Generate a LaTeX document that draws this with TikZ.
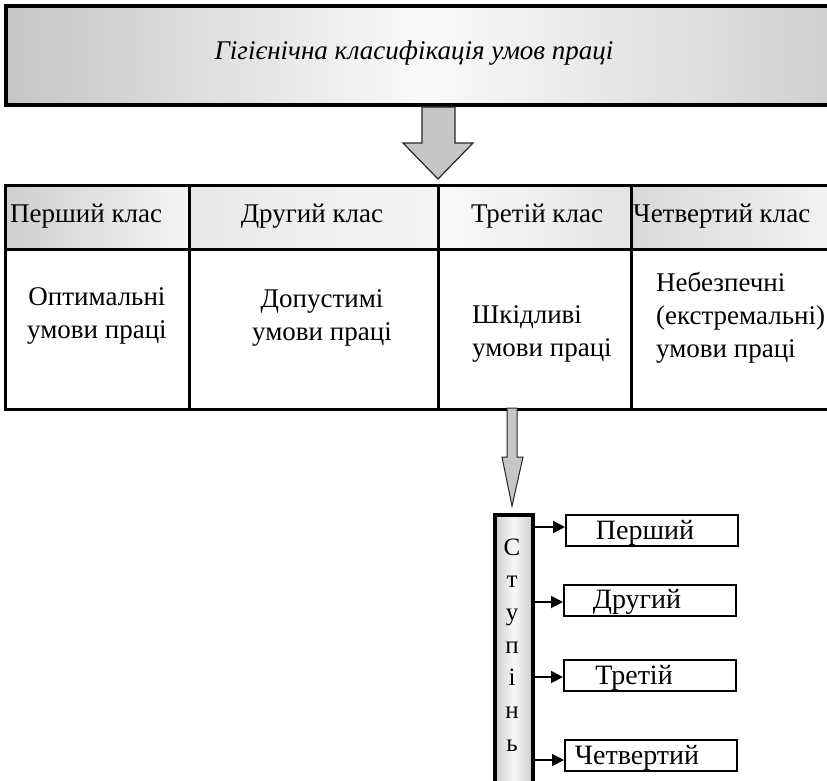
\documentclass[tikz,border=0pt]{standalone}
\usepackage{fontspec}
\setmainfont{Liberation Serif}
\usetikzlibrary{arrows.meta,positioning,calc}

\tikzset{
  cell/.style={draw, line width=2.6pt, rectangle, anchor=north west, inner sep=0pt},
  headcell/.style={cell, left color=#1, right color=gray!8},
  bodycell/.style={cell, fill=white},
  celltext/.style={font=\fontsize{27}{33}\selectfont, inner sep=0pt, align=left},
  gradebox/.style={draw, line width=2pt, rectangle, minimum width=172pt, minimum height=31pt,
    inner sep=0pt},
  gradetext/.style={font=\fontsize{28}{30}\selectfont, inner sep=0pt, anchor=base},
  blockarrow/.style={draw=black!85, line width=1.2pt, fill=gray!45, line join=miter},
  smallarrow/.style={line width=1.8pt, -{Triangle[length=12pt,width=12pt]}},
}

\begin{document}
\begin{tikzpicture}[x=1pt, y=-1pt]
  \useasboundingbox (0,0) rectangle (827,780);
  \clip (0,0) rectangle (827,780);

  % title box
  \node[draw, line width=3.5pt, anchor=north west, inner sep=0pt,
        minimum width=840pt, minimum height=99pt,
        left color=gray!45, right color=gray!38, middle color=gray!4] (title) at (4,4) {};
  \node[font=\itshape\fontsize{27}{30}\selectfont] (titletext) at (414,53)
    {Гігієнічна класифікація умов праці};

  % big arrow down to the table
  \draw[blockarrow] (422,107) -- (455,107) -- (455,143) -- (473,143) -- (438,179)
    -- (403,143) -- (422,143) -- cycle;

  % header row
  \node[headcell=gray!38, minimum width=184pt, minimum height=64pt] (h1) at (4,184) {};
  \node[headcell=gray!18, minimum width=250pt, minimum height=64pt] (h2) at (188,184) {};
  \node[cell, left color=gray!4, right color=gray!22, minimum width=193pt, minimum height=64pt] (h3) at (437,184) {};
  \node[headcell=gray!30, minimum width=220pt, minimum height=64pt] (h4) at (630,184) {};

  % body row
  \node[bodycell, minimum width=184pt, minimum height=160pt] (b1) at (4,248) {};
  \node[bodycell, minimum width=250pt, minimum height=160pt] (b2) at (188,248) {};
  \node[bodycell, minimum width=193pt, minimum height=160pt] (b3) at (437,248) {};
  \node[bodycell, minimum width=220pt, minimum height=160pt] (b4) at (630,248) {};

  % header texts
  \node[celltext, anchor=west] (h1text) at (10,216) {Перший клас};
  \node[celltext] (h2text) at (312,216) {Другий клас};
  \node[celltext] (h3text) at (537,216) {Третій клас};
  \node[celltext, anchor=west] (h4text) at (633,216) {Четвертий клас};

  % body texts
  \node[celltext, align=center] (b1text) at (97,316) {Оптимальні\\умови праці};
  \node[celltext, align=center] (b2text) at (322,318) {Допустимі\\умови праці};
  \node[celltext, anchor=west] (b3text) at (472,334) {Шкідливі\\умови праці};
  \node[celltext, anchor=west] (b4text) at (656,318) {Небезпечні\\(екстремальні)\\умови праці};

  % thin arrow down to the bar
  \draw[blockarrow, line width=1pt] (507,408) -- (517,408) -- (517,457) -- (523,457)
    -- (512,506) -- (502,457) -- (507,457) -- cycle;

  % vertical bar
  \node[draw, line width=3.5pt, anchor=north west, inner sep=0pt,
        minimum width=38pt, minimum height=270pt,
        left color=gray!40, right color=gray!40, middle color=gray!5] (bar) at (493,513) {};
  \node[font=\fontsize{25}{32.7}\selectfont, align=center, inner sep=0pt] (bartext)
    at (512,645) {С\\т\\у\\п\\і\\н\\ь};

  % grade boxes
  \node[gradebox] (g1) at (652,530) {};
  \node[gradebox] (g2) at (650,600) {};
  \node[gradebox] (g3) at (650,675) {};
  \node[gradebox] (g4) at (651,755) {};
  \node[gradetext] (g1text) at (645,539) {Перший};
  \node[gradetext] (g2text) at (637,608) {Другий};
  \node[gradetext] (g3text) at (634,684) {Третій};
  \node[gradetext] (g4text) at (637,764) {Четвертий};

  \draw[smallarrow] (bar.east |- 0,527) -- (g1.west |- 0,527);
  \draw[smallarrow] (bar.east |- 0,602) -- (g2.west |- 0,602);
  \draw[smallarrow] (bar.east |- 0,677) -- (g3.west |- 0,677);
  \draw[smallarrow] (bar.east |- 0,760) -- (g4.west |- 0,760);
\end{tikzpicture}
\end{document}
